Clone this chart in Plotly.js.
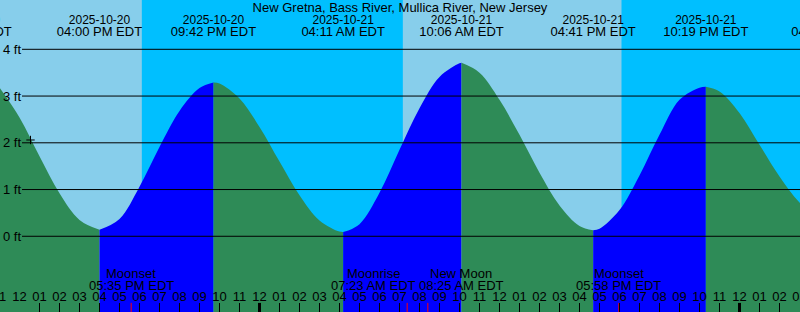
<!DOCTYPE html>
<html><head><meta charset="utf-8">
<script src="https://cdn.plot.ly/plotly-3.0.1.min.js"></script>
<style>html,body{margin:0;padding:0;background:#00BFFF;} #chart{width:800px;height:312px;}</style>
</head><body><div id="chart"></div>
<script>
// ---------------- data ----------------
const stationTitle = 'New Gretna, Bass River, Mullica River, New Jersey';

const tideTimes = [
  '2025-10-20 11:00','2025-10-20 12:00','2025-10-20 13:00','2025-10-20 14:00','2025-10-20 15:00',
  '2025-10-20 16:00','2025-10-20 17:00','2025-10-20 18:00','2025-10-20 19:00','2025-10-20 20:00',
  '2025-10-20 21:00','2025-10-20 21:42','2025-10-20 22:00','2025-10-20 23:00','2025-10-21 00:00',
  '2025-10-21 01:00','2025-10-21 02:00','2025-10-21 03:00','2025-10-21 04:00','2025-10-21 04:11',
  '2025-10-21 05:00','2025-10-21 06:00','2025-10-21 07:00','2025-10-21 08:00','2025-10-21 09:00',
  '2025-10-21 10:00','2025-10-21 10:06','2025-10-21 11:00','2025-10-21 12:00','2025-10-21 13:00',
  '2025-10-21 14:00','2025-10-21 15:00','2025-10-21 16:00','2025-10-21 16:41','2025-10-21 17:00',
  '2025-10-21 18:00','2025-10-21 19:00','2025-10-21 20:00','2025-10-21 21:00','2025-10-21 22:00',
  '2025-10-21 22:19','2025-10-21 23:00','2025-10-22 00:00','2025-10-22 01:00','2025-10-22 02:00',
  '2025-10-22 03:00','2025-10-22 04:00'
];
const tideHeights = [
  3.18, 2.54, 1.71, 0.92, 0.35,
  0.14, 0.37, 1.06, 1.91, 2.68,
  3.17, 3.29, 3.27, 2.95, 2.34,
  1.60, 0.88, 0.34, 0.10, 0.09,
  0.26, 0.93, 1.85, 2.74, 3.41,
  3.70, 3.71, 3.50, 2.92, 2.17,
  1.36, 0.66, 0.22, 0.13, 0.16,
  0.56, 1.30, 2.17, 2.92, 3.18,
  3.20, 3.10, 2.64, 1.96, 1.28,
  0.72, 0.33
];

const extremeTimes = ['2025-10-20 09:30','2025-10-20 16:00','2025-10-20 21:42','2025-10-21 04:11',
                      '2025-10-21 10:06','2025-10-21 16:41','2025-10-21 22:19','2025-10-22 04:42'];

const sunriseTimes = ['2025-10-20 07:09','2025-10-21 07:10'];
const sunsetTimes  = ['2025-10-20 18:07','2025-10-21 18:06'];

const moonEventTimes = ['2025-10-20 17:35','2025-10-21 07:23','2025-10-21 08:25','2025-10-21 17:58'];
const moonEventNames = ['Moonset','Moonrise','New Moon','Moonset'];

const midnightTimes = ['2025-10-21 00:00','2025-10-22 00:00'];

const nowTime = ['2025-10-20 12:33'];
const nowHeight = [2.06];

const yTickValues = [0,1,2,3,4];
const yTickLabels = ['0 ft','1 ft','2 ft','3 ft','4 ft'];

// ---------------- layout constants ----------------
const W = 800, H = 312;
const X_RANGE = ['2025-10-20 11:01:30','2025-10-22 03:01:30'];
const Y_RANGE = [-1.62, 5.055];
const YBOT = Y_RANGE[0] - 1;
const FONT = 'Liberation Sans, Arial, sans-serif';
const FS = 13;
const HOUR = 3600000;
const C_DAY = '#87CEEB', C_NIGHT = '#00BFFF', C_RISE = '#0000FF', C_FALL = '#2E8B57';

const pxToY = py => Y_RANGE[1] - py / H * (Y_RANGE[1] - Y_RANGE[0]);
function toMs(s) {
  return Date.UTC(+s.slice(0, 4), +s.slice(5, 7) - 1, +s.slice(8, 10),
                  +s.slice(11, 13), +s.slice(14, 16), s.length > 16 ? +s.slice(17, 19) : 0);
}
const pxPerMs = W / (toMs(X_RANGE[1]) - toMs(X_RANGE[0]));
const pad2 = n => (n < 10 ? '0' : '') + n;
function fmtTime(s) {
  const hh = parseInt(s.slice(11, 13), 10), mm = s.slice(14, 16);
  const ap = hh < 12 ? 'AM' : 'PM';
  return pad2(hh % 12 || 12) + ':' + mm + ' ' + ap + ' EDT';
}

const traces = [];

// tide fills, split at turning points
const turning = [0];
for (let i = 1; i < tideHeights.length - 1; i++) {
  const a = tideHeights[i] - tideHeights[i - 1], b = tideHeights[i + 1] - tideHeights[i];
  if (a * b < 0) turning.push(i);
}
turning.push(tideHeights.length - 1);
for (let k = 0; k < turning.length - 1; k++) {
  const s = turning[k], e = turning[k + 1];
  const xs = tideTimes.slice(s, e + 1), ys = tideHeights.slice(s, e + 1);
  const rising = ys[ys.length - 1] > ys[0];
  traces.push({x: [xs[0], xs[xs.length - 1]], y: [YBOT, YBOT], mode: 'lines',
    line: {width: 0, color: 'rgba(0,0,0,0)'}, hoverinfo: 'skip', showlegend: false});
  traces.push({x: xs, y: ys, mode: 'lines', line: {width: 0, shape: 'spline', color: 'rgba(0,0,0,0)'},
    fill: 'tonexty', fillcolor: rising ? C_RISE : C_FALL, hoverinfo: 'skip', showlegend: false});
}

// top labels of high / low tides (plot area == whole figure, so clipping == page edge)
traces.push({x: extremeTimes, y: extremeTimes.map(() => pxToY(20.5)), mode: 'text',
  text: extremeTimes.map(t => t.slice(0, 10)), textposition: 'middle center',
  textfont: {family: FONT, size: 12, color: '#000'}, cliponaxis: true, hoverinfo: 'skip', showlegend: false});
traces.push({x: extremeTimes, y: extremeTimes.map(() => pxToY(32.3)), mode: 'text',
  text: extremeTimes.map(fmtTime), textposition: 'middle center',
  textfont: {family: FONT, size: FS, color: '#000'}, cliponaxis: true, hoverinfo: 'skip', showlegend: false});

// hour labels along the bottom axis
const hourMs = [];
for (let m = Math.floor(toMs(X_RANGE[0]) / HOUR) * HOUR; m <= toMs(X_RANGE[1]) + HOUR; m += HOUR) hourMs.push(m);
traces.push({x: hourMs, y: hourMs.map(() => pxToY(297.5)), mode: 'text',
  text: hourMs.map(m => pad2(new Date(m).getUTCHours() % 12 || 12)), textposition: 'middle center',
  textfont: {family: FONT, size: FS, color: '#000'}, cliponaxis: true, hoverinfo: 'skip', showlegend: false});

// midnight (bold) ticks
traces.push({x: midnightTimes, y: midnightTimes.map(() => Y_RANGE[0]), mode: 'markers',
  marker: {symbol: 'line-ns', size: 13, color: '#000', line: {width: 3, color: '#000'}},
  cliponaxis: true, hoverinfo: 'skip', showlegend: false});
// moon event ticks
traces.push({x: moonEventTimes, y: moonEventTimes.map(() => Y_RANGE[0]), mode: 'markers',
  marker: {symbol: 'line-ns', size: 13, color: '#FF0000', line: {width: 1, color: '#FF0000'}},
  cliponaxis: true, hoverinfo: 'skip', showlegend: false});
// current time marker
traces.push({x: nowTime, y: nowHeight, mode: 'markers',
  marker: {symbol: 'cross-thin-open', size: 6, color: '#000', line: {width: 1, color: '#000'}},
  hoverinfo: 'skip', showlegend: false});

// day/night shapes and grid lines
const shapes = [];
for (let i = 0; i < sunriseTimes.length; i++) {
  shapes.push({type: 'rect', xref: 'x', yref: 'paper', x0: sunriseTimes[i], x1: sunsetTimes[i], y0: 0, y1: 1,
    fillcolor: C_DAY, line: {width: 0}, layer: 'below'});
}
yTickValues.forEach(v => shapes.push({type: 'line', xref: 'paper', yref: 'y', x0: 22 / W, x1: 1, y0: v, y1: v,
  line: {color: '#000', width: 1}, layer: 'above'}));

// moon labels (spread apart when too close)
const LABEL_W = 88;
const shifts = moonEventTimes.map(() => 0);
for (let i = 0; i < moonEventTimes.length - 1; i++) {
  const d = (toMs(moonEventTimes[i + 1]) - toMs(moonEventTimes[i])) * pxPerMs;
  if (d < LABEL_W) { shifts[i] -= (LABEL_W - d) / 2; shifts[i + 1] += (LABEL_W - d) / 2; }
}
const annotations = [];
moonEventTimes.forEach((t, i) => {
  annotations.push({x: t, xref: 'x', y: 1 - 273.5 / H, yref: 'paper', yanchor: 'middle', xshift: shifts[i],
    text: moonEventNames[i], showarrow: false, font: {family: FONT, size: FS, color: '#000'}});
  annotations.push({x: t, xref: 'x', y: 1 - 285.5 / H, yref: 'paper', yanchor: 'middle', xshift: shifts[i],
    text: fmtTime(t), showarrow: false, font: {family: FONT, size: FS, color: '#000'}});
});

const layout = {
  width: W, height: H, margin: {l: 0, r: 0, t: 0, b: 0, pad: 0},
  paper_bgcolor: C_NIGHT, plot_bgcolor: C_NIGHT, showlegend: false, hovermode: false,
  font: {family: FONT, size: FS, color: '#000'},
  title: {text: stationTitle, font: {family: FONT, size: FS, color: '#000'},
    x: 0.5, xanchor: 'center', xref: 'paper', y: 1 - 7.5 / H, yref: 'container', yanchor: 'middle'},
  xaxis: {type: 'date', range: X_RANGE, dtick: HOUR, tick0: '2025-10-20 00:00',
    ticks: 'inside', ticklen: 9, tickwidth: 1, tickcolor: '#000', showticklabels: false,
    showgrid: false, zeroline: false, showline: false, fixedrange: true},
  yaxis: {range: Y_RANGE, tickvals: yTickValues, ticktext: yTickLabels, ticks: '',
    ticklabelposition: 'inside', tickfont: {family: FONT, size: FS, color: '#000'},
    showgrid: false, zeroline: false, showline: false, fixedrange: true},
  shapes: shapes, annotations: annotations
};

Plotly.newPlot('chart', traces, layout, {displayModeBar: false, staticPlot: true});
</script></body></html>
